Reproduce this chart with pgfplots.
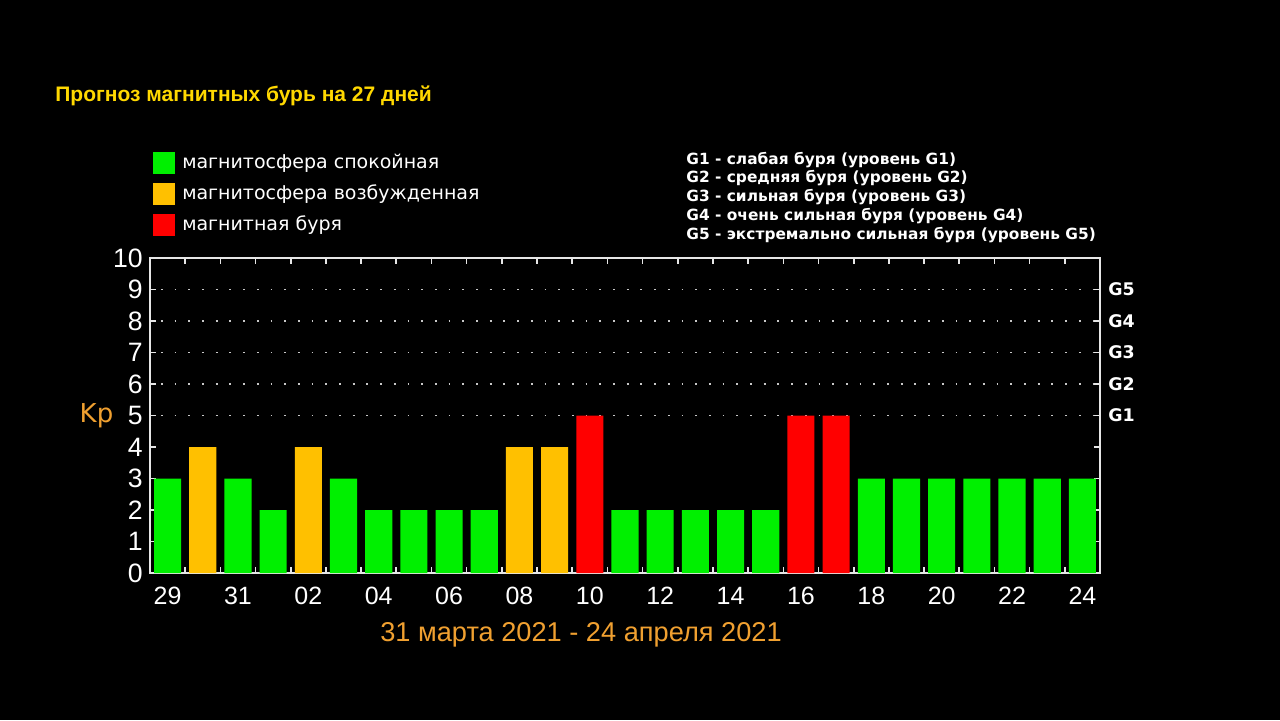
\documentclass[border=0pt]{standalone}
\usepackage{pgfplots}
\pgfplotsset{compat=1.18}
\usepackage{fontspec}
\setmainfont{DejaVu Sans}
\newfontfamily\arialfont{Liberation Sans}
\newfontfamily\gfont{DejaVu Sans}
\definecolor{kpgreen}{HTML}{00F000}
\definecolor{kporange}{HTML}{FFC000}
\definecolor{kpred}{HTML}{FF0000}
\definecolor{titleyellow}{HTML}{FFD800}
\definecolor{dateorange}{HTML}{F0A030}
\definecolor{axisgray}{HTML}{E6E6E6}
\definecolor{dotgray}{HTML}{C8C8C8}
\begin{document}
\begin{tikzpicture}
\fill[black] (0,0) rectangle (640pt,360pt);
\useasboundingbox (0,0) rectangle (640pt,360pt);
\begin{axis}[
  at={(75pt,73.5pt)}, anchor=south west,
  scale only axis, width=475pt, height=157.5pt,
  clip=false,
  xmin=-0.5, xmax=26.5, ymin=0, ymax=10,
  axis line style={axisgray, line width=1pt},
  ybar, bar width=0.77, bar shift=0pt,
  xtick={0.5,1.5,...,25.5}, xticklabels={},
  xtick pos=both,
  tick align=inside,
  major tick length=3pt,
  tick style={axisgray, line width=0.8pt},
  extra x ticks={0,2,4,6,8,10,12,14,16,18,20,22,24,26},
  extra x tick labels={29,31,02,04,06,08,10,12,14,16,18,20,22,24},
  extra x tick style={major tick length=0pt},
  xticklabel style={text=white, font=\arialfont\fontsize{12.5}{12.5}\selectfont, yshift=-3.5pt},
  ytick={0,1,2,3,4,5,6,7,8,9,10},
  yticklabels={0,1,2,3,4,5,6,7,8,9,10},
  ytick pos=both, yticklabel pos=left,
  yticklabel style={text=white, font=\arialfont\fontsize{13.3}{13.3}\selectfont, inner sep=0pt, xshift=-3.5pt},
  extra y ticks={5,6,7,8,9},
  extra y tick labels={},
  extra y tick style={grid=major, major grid style={dotgray, line width=0.9pt, dash pattern=on 0.9pt off 5.95pt, dash phase=1.4pt}},
  legend image code/.code={\fill[#1] (0pt,-5.5pt) rectangle (11pt,5.5pt);},
  legend cell align=left,
  legend style={at={(0.003,1.343)}, anchor=north west, draw=none, fill=none,
    text=white, font=\fontsize{9.5}{11}\selectfont, inner sep=0pt, row sep=2.6pt,
    /tikz/every odd column/.append style={column sep=1.5pt}},
]
\addplot[fill=kpgreen, draw=none] coordinates {
 (0,3) (2,3) (3,2) (5,3) (6,2) (7,2) (8,2) (9,2)
 (13,2) (14,2) (15,2) (16,2) (17,2)
 (20,3) (21,3) (22,3) (23,3) (24,3) (25,3) (26,3)};
\addlegendentry{магнитосфера спокойная}
\addplot[fill=kporange, draw=none] coordinates {(1,4) (4,4) (10,4) (11,4)};
\addlegendentry{магнитосфера возбужденная}
\addplot[fill=kpred, draw=none] coordinates {(12,5) (18,5) (19,5)};
\addlegendentry{магнитная буря}

\node[anchor=base west, font=\arialfont\bfseries\fontsize{10.5}{12}\selectfont, text=titleyellow, inner sep=0pt]
  at (axis description cs:-0.1,1.496) {Прогноз магнитных бурь на 27 дней};
\node[anchor=north west, align=left, text=white, inner sep=0pt,
  font=\gfont\bfseries\fontsize{7.7}{9.4}\selectfont]
  at (axis description cs:0.5642,1.338) {G1 - слабая буря (уровень G1)\\
G2 - средняя буря (уровень G2)\\
G3 - сильная буря (уровень G3)\\
G4 - очень сильная буря (уровень G4)\\
G5 - экстремально сильная буря (уровень G5)};
\node[text=dateorange, font=\fontsize{13}{13}\selectfont, inner sep=0pt]
  at (axis description cs:-0.0563,0.498) {Kp};
\node[text=dateorange, font=\arialfont\fontsize{13.6}{13.6}\selectfont, inner sep=0pt]
  at (axis description cs:0.4537,-0.195) {31 марта 2021 - 24 апреля 2021};
\node[anchor=west, text=white, inner sep=0pt, xshift=4pt, font=\gfont\bfseries\fontsize{8.7}{8.7}\selectfont] at (axis cs:26.5,5) {G1};
\node[anchor=west, text=white, inner sep=0pt, xshift=4pt, font=\gfont\bfseries\fontsize{8.7}{8.7}\selectfont] at (axis cs:26.5,6) {G2};
\node[anchor=west, text=white, inner sep=0pt, xshift=4pt, font=\gfont\bfseries\fontsize{8.7}{8.7}\selectfont] at (axis cs:26.5,7) {G3};
\node[anchor=west, text=white, inner sep=0pt, xshift=4pt, font=\gfont\bfseries\fontsize{8.7}{8.7}\selectfont] at (axis cs:26.5,8) {G4};
\node[anchor=west, text=white, inner sep=0pt, xshift=4pt, font=\gfont\bfseries\fontsize{8.7}{8.7}\selectfont] at (axis cs:26.5,9) {G5};
\end{axis}
\end{tikzpicture}
\end{document}
